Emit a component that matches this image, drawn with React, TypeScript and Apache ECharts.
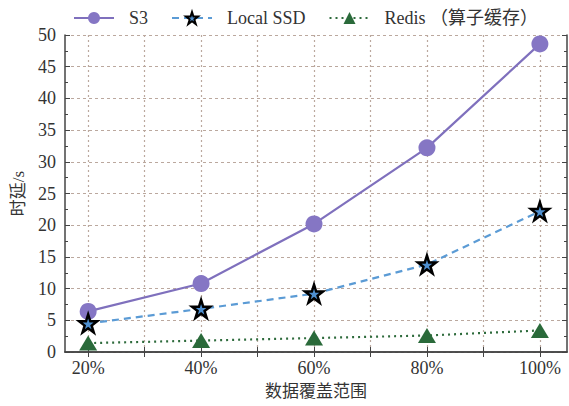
import React, { useEffect, useRef } from "react";
import * as echarts from "echarts";

// Data coverage (%) on the x axis
const coverage = [20, 40, 60, 80, 100];
// Latency in seconds for each storage backend
const s3Latency = [6.4, 10.8, 20.2, 32.2, 48.6];
const localSsdLatency = [4.5, 6.8, 9.2, 13.8, 22.2];
const redisLatency = [1.4, 1.8, 2.2, 2.6, 3.4];

const seriesNames = ["S3", "Local SSD", "Redis （算子缓存）"];
const xTickValues = [20, 30, 40, 50, 60, 70, 80, 90, 100];
const xLabelValues = [20, 40, 60, 80, 100];

const FONT = "Liberation Serif, Noto Sans CJK SC";
const STAR =
  "path://M50,0 L61.8,35.5 L99,35.5 L69,57.5 L80.5,93 L50,71 L19.5,93 L31,57.5 L1,35.5 L38.2,35.5 Z";

const pairs = (ys: number[]) => coverage.map((x, i) => [x, ys[i]]);

export default function App() {
  const ref = useRef<HTMLDivElement>(null);

  useEffect(() => {
    if (!ref.current) return;
    const chart = echarts.init(ref.current, null, { renderer: "svg" });
    const axisColor = "#444";
    const gridColor = "#bba89e";
    const xMin = 15.9;
    const xMax = 104.8;

    chart.setOption({
      animation: false,
      backgroundColor: "#ffffff",
      textStyle: { fontFamily: FONT },
      legend: {
        top: 4,
        left: 68,
        itemWidth: 40,
        itemHeight: 15,
        itemGap: 23,
        textStyle: {
          fontFamily: FONT,
          fontSize: 18,
          color: "#333",
          padding: [0, 0, 0, 10],
        },
        data: seriesNames,
      },
      grid: { left: 65, right: 2, top: 35, bottom: 54 },
      xAxis: [
        {
          type: "value",
          min: xMin,
          max: xMax,
          position: "bottom",
          name: "数据覆盖范围",
          nameLocation: "middle",
          nameGap: 31,
          nameTextStyle: { fontFamily: FONT, fontSize: 17, color: "#333" },
          axisLine: { show: true, lineStyle: { color: axisColor, width: 1.5 } },
          axisTick: {
            show: true,
            inside: true,
            length: 5,
            customValues: xTickValues,
            lineStyle: { color: axisColor },
          },
          axisLabel: {
            customValues: xLabelValues,
            formatter: "{value}%",
            fontFamily: FONT,
            fontSize: 18,
            color: "#333",
            margin: 7,
          },
          splitLine: {
            show: true,
            lineStyle: { color: gridColor, type: [2, 3], width: 1.2 },
          },
        },
        {
          type: "value",
          min: xMin,
          max: xMax,
          position: "top",
          axisLine: { show: true, lineStyle: { color: axisColor, width: 1.5 } },
          axisTick: {
            show: true,
            inside: true,
            length: 5,
            customValues: xTickValues,
            lineStyle: { color: axisColor },
          },
          axisLabel: { show: false },
          splitLine: { show: false },
        },
      ],
      yAxis: [
        {
          type: "value",
          min: 0,
          max: 50,
          interval: 5,
          name: "时延/s",
          nameLocation: "middle",
          nameGap: 38,
          nameTextStyle: { fontFamily: FONT, fontSize: 17, color: "#333" },
          axisLine: { show: true, lineStyle: { color: axisColor, width: 1.5 } },
          axisTick: { show: true, inside: true, length: 5, lineStyle: { color: axisColor } },
          minorTick: { show: true, splitNumber: 2, length: 3, lineStyle: { color: axisColor } },
          axisLabel: { fontFamily: FONT, fontSize: 18, color: "#333", margin: 9 },
          splitLine: {
            show: true,
            lineStyle: { color: gridColor, type: [3, 3], width: 1.2 },
          },
        },
        {
          type: "value",
          min: 0,
          max: 50,
          interval: 5,
          position: "right",
          axisLine: { show: true, lineStyle: { color: axisColor, width: 1.5 } },
          axisTick: { show: true, inside: true, length: 5, lineStyle: { color: axisColor } },
          minorTick: { show: true, splitNumber: 2, length: 3, lineStyle: { color: axisColor } },
          axisLabel: { show: false },
          splitLine: { show: false },
        },
      ],
      series: [
        {
          name: seriesNames[0],
          type: "line",
          data: pairs(s3Latency),
          symbol: "circle",
          symbolSize: 17,
          lineStyle: { color: "#7f70bd", width: 2.2 },
          itemStyle: { color: "#8576c4" },
          z: 3,
        },
        {
          name: seriesNames[1],
          type: "line",
          data: pairs(localSsdLatency),
          symbol: STAR,
          symbolSize: 18,
          lineStyle: { color: "#5b9bd5", width: 2.2, type: [7, 5] },
          itemStyle: { color: "#4e8fcf", borderColor: "#000", borderWidth: 2.5 },
          z: 4,
        },
        {
          name: seriesNames[2],
          type: "line",
          data: pairs(redisLatency),
          symbol: "triangle",
          symbolSize: [18, 15],
          lineStyle: { color: "#2e6b3c", width: 2.2, type: [2, 4] },
          itemStyle: { color: "#2a6a3a" },
          z: 2,
        },
      ],
    });

    return () => chart.dispose();
  }, []);

  return (
    <div
      ref={ref}
      style={{ position: "fixed", left: 0, top: 0, width: 569, height: 406 }}
    />
  );
}
